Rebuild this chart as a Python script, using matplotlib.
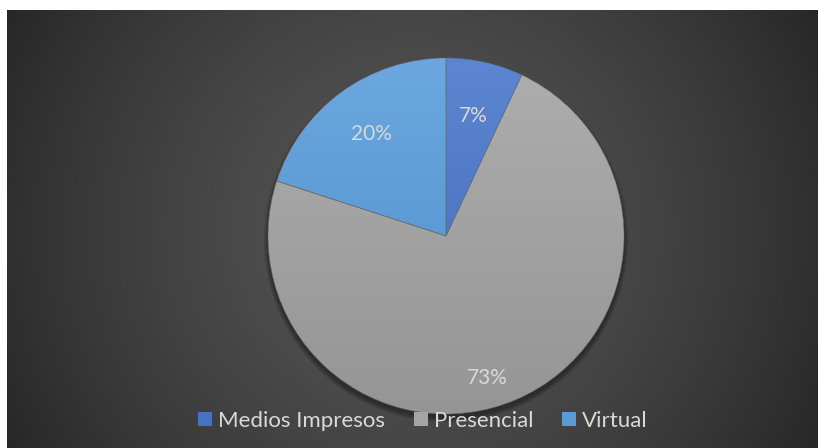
import numpy as np
import matplotlib
matplotlib.use("Agg")
import matplotlib.pyplot as plt
from matplotlib.colors import LinearSegmentedColormap
from matplotlib.patches import Circle, Patch

categories = ["Medios Impresos", "Presencial", "Virtual"]
values = [7, 73, 20]
pct_labels = ["7%", "73%", "20%"]

base_colors = ["#4472C4", "#A5A5A5", "#5B9BD5"]
top_colors = ["#5D86D2", "#AEAEAE", "#6CA8DF"]
bot_colors = ["#3D67B5", "#959595", "#4B8CCB"]
label_radius = [0.69, 0.83, 0.71]
label_angle_shift = [0, -7, 0]

W, H = 818, 448
fig = plt.figure(figsize=(W / 100, H / 100), dpi=100)
fig.patch.set_facecolor("white")

# background with radial gradient
bx0, by0, bw, bh = 7, 0, 811, 438
bg = fig.add_axes([bx0 / W, by0 / H, bw / W, bh / H])
yy, xx = np.mgrid[0:bh, 0:bw]
cx, cy = 412 - bx0, 229 - 10
r = np.sqrt((xx - cx) ** 2 + (yy - cy) ** 2) / 470.0
val = (84 - 46 * np.clip(r, 0, 1.1) ** 1.5) / 255.0
img = np.dstack([val, val, val])
bg.imshow(img, aspect="auto", interpolation="bilinear")
bg.set_axis_off()

# pie axes
R = 178
pcx, pcy = 446, H - 236
k = 1.3
ax = fig.add_axes([(pcx - R * k) / W, (pcy - R * k) / H, 2 * R * k / W, 2 * R * k / H])
ax.set_axis_off()

# soft shadow (mostly below the pie)
for i in range(7):
    ax.add_patch(Circle((0, -0.022), 1.0 + 0.004 * i, color="black", alpha=0.06, lw=0, zorder=0))

wedges, _ = ax.pie(values, colors=base_colors, startangle=90, counterclock=False,
                   radius=1, wedgeprops=dict(linewidth=0.5, edgecolor="#6a6a6a"))
for w, tc, bc in zip(wedges, top_colors, bot_colors):
    w.set_zorder(2)
    cmap = LinearSegmentedColormap.from_list("g", [bc, tc])
    grad = np.linspace(0, 1, 256).reshape(-1, 1)
    im = ax.imshow(grad, cmap=cmap, extent=(-1, 1, -1, 1), origin="lower",
                   aspect="auto", zorder=3, interpolation="bilinear")
    im.set_clip_path(w)
for w in wedges:
    w.set_facecolor("none")
    w.set_alpha(0.7)
    w.set_zorder(4)

for w, lab, rr, sh in zip(wedges, pct_labels, label_radius, label_angle_shift):
    ang = np.deg2rad((w.theta1 + w.theta2) / 2 + sh)
    ax.text(rr * np.cos(ang), rr * np.sin(ang), lab, ha="center", va="center",
            color="#D9D9D9", fontsize=15, family=["Lato", "DejaVu Sans"], zorder=5)

ax.set_xlim(-k, k)
ax.set_ylim(-k, k)
ax.set_aspect("equal")

handles = [Patch(facecolor=c, edgecolor="none") for c in base_colors]
leg = fig.legend(handles, categories, loc="center", bbox_to_anchor=(0.517, 27 / H),
                 ncol=3, frameon=False, handlelength=0.63, handleheight=0.63,
                 handletextpad=0.27, columnspacing=1.3, borderpad=0.2,
                 prop=dict(family=["Lato", "DejaVu Sans"], size=16))
for t in leg.get_texts():
    t.set_color("#D9D9D9")

fig.savefig("out.png", dpi=100, facecolor="white")
